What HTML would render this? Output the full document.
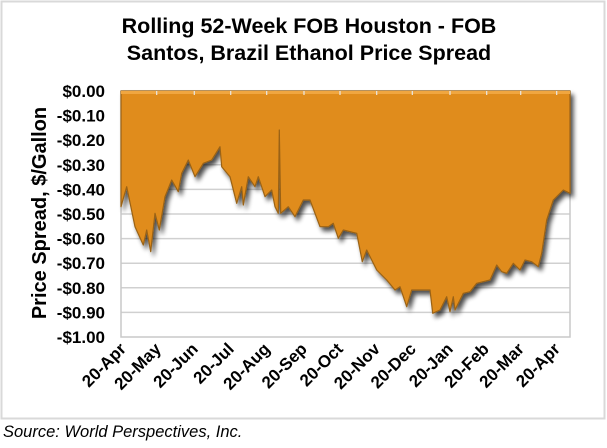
<!DOCTYPE html>
<html><head><style>
body{margin:0;background:#fff;width:607px;height:443px;overflow:hidden;font-family:"Liberation Sans",Arial,sans-serif;}
</style></head><body>
<svg width="607" height="443" xmlns="http://www.w3.org/2000/svg" font-family="Liberation Sans, Arial, sans-serif">
<defs>
<filter id="sh" x="-5%" y="-5%" width="115%" height="115%">
<feGaussianBlur in="SourceAlpha" stdDeviation="2.5"/>
<feOffset dx="3" dy="4" result="o"/>
<feComponentTransfer><feFuncA type="linear" slope="0.7"/></feComponentTransfer>
<feMerge><feMergeNode/><feMergeNode in="SourceGraphic"/></feMerge>
</filter>
</defs>
<rect x="1.5" y="1.5" width="603" height="417" fill="#fff" stroke="#d9d9d9" stroke-width="2"/>
<text x="309" y="33" text-anchor="middle" font-size="21.5" font-weight="bold">Rolling 52-Week FOB Houston - FOB</text>
<text x="309" y="60" text-anchor="middle" font-size="21.5" font-weight="bold">Santos, Brazil Ethanol Price Spread</text>
<g stroke="#d0d0d0" stroke-width="1.5">
<line x1="121" x2="570" y1="115.6" y2="115.6"/><line x1="121" x2="570" y1="140.2" y2="140.2"/>
<line x1="121" x2="570" y1="164.8" y2="164.8"/><line x1="121" x2="570" y1="189.4" y2="189.4"/>
<line x1="121" x2="570" y1="214" y2="214"/><line x1="121" x2="570" y1="238.6" y2="238.6"/>
<line x1="121" x2="570" y1="263.2" y2="263.2"/><line x1="121" x2="570" y1="287.8" y2="287.8"/>
<line x1="121" x2="570" y1="312.4" y2="312.4"/>
</g>
<rect x="121" y="91" width="449" height="246" fill="none" stroke="#c8c8c8" stroke-width="1.5"/>
<path filter="url(#sh)" fill="#E08C1E" stroke="#9a6212" stroke-width="1.2" stroke-linejoin="round" d="M121,91 L570,91 L570,193.3 L563.3,190 L553.3,200 L546.7,220 L541.7,253.3 L538.3,266.7 L531.7,261.7 L525,260 L520,270 L513.3,263.3 L506.7,273.3 L501.7,271.7 L496.7,265 L490,280 L476.7,283.3 L470,291.7 L463.3,293.3 L455,310 L453.3,296.7 L450,311.7 L446.7,296.7 L440,310 L432.7,313.3 L430,290 L411.7,290 L406.7,306.7 L400,286.7 L395,290 L386.7,280 L376.7,270 L366.7,250 L362.3,261.7 L356.7,233.3 L343.3,230 L338.3,238.3 L333.3,223.3 L328.3,226.7 L320,226.7 L310,200 L303.3,200 L295,216.7 L288.3,206.7 L280.7,213.3 L279.3,130 L278.3,213.3 L275,206.7 L271.7,190 L265,196.7 L258.3,176.7 L255,186.7 L248.3,176.7 L243.3,205 L241.7,186.7 L236.7,203.3 L230,176.7 L221.7,166.7 L220,146.7 L211.7,160 L203.3,163.3 L195,176.7 L188.3,160 L181.7,173.3 L178.3,191.7 L171.7,180 L165,196.7 L159.3,230 L155,213.3 L150.7,251.7 L146.7,230 L143.3,245 L135,226.7 L126.7,186.7 L121,206.7 Z"/>
<rect x="121" y="91" width="449" height="3" fill="#f0a640"/>
<g stroke="#e8e8e8" stroke-width="1.2">
<line x1="156.7" x2="156.7" y1="91" y2="95"/><line x1="194.3" x2="194.3" y1="91" y2="95"/><line x1="230.7" x2="230.7" y1="91" y2="95"/><line x1="266.7" x2="266.7" y1="91" y2="95"/><line x1="304" x2="304" y1="91" y2="95"/><line x1="340" x2="340" y1="91" y2="95"/><line x1="376.7" x2="376.7" y1="91" y2="95"/><line x1="412.3" x2="412.3" y1="91" y2="95"/><line x1="450" x2="450" y1="91" y2="95"/><line x1="486.7" x2="486.7" y1="91" y2="95"/><line x1="520.7" x2="520.7" y1="91" y2="95"/><line x1="556.7" x2="556.7" y1="91" y2="95"/>
</g>
<g font-size="17" font-weight="bold" text-anchor="end">
<text x="105" y="97">$0.00</text><text x="105" y="121.6">-$0.10</text><text x="105" y="146.2">-$0.20</text>
<text x="105" y="170.8">-$0.30</text><text x="105" y="195.4">-$0.40</text><text x="105" y="220">-$0.50</text>
<text x="105" y="244.6">-$0.60</text><text x="105" y="269.2">-$0.70</text><text x="105" y="293.8">-$0.80</text>
<text x="105" y="318.4">-$0.90</text><text x="105" y="343">-$1.00</text>
</g>
<text transform="translate(46,213) rotate(-90)" text-anchor="middle" font-size="20" font-weight="bold">Price Spread, $/Gallon</text>
<g font-size="17" font-weight="bold" text-anchor="end">
<text transform="translate(127,350) rotate(-45)">20-Apr</text>
<text transform="translate(162,350) rotate(-45)">20-May</text>
<text transform="translate(199,350) rotate(-45)">20-Jun</text>
<text transform="translate(235,350) rotate(-45)">20-Jul</text>
<text transform="translate(271,350) rotate(-45)">20-Aug</text>
<text transform="translate(308,350) rotate(-45)">20-Sep</text>
<text transform="translate(344,350) rotate(-45)">20-Oct</text>
<text transform="translate(381,350) rotate(-45)">20-Nov</text>
<text transform="translate(417,350) rotate(-45)">20-Dec</text>
<text transform="translate(454,350) rotate(-45)">20-Jan</text>
<text transform="translate(490,350) rotate(-45)">20-Feb</text>
<text transform="translate(525,350) rotate(-45)">20-Mar</text>
<text transform="translate(561,350) rotate(-45)">20-Apr</text>
</g>
<text x="3" y="437" font-size="16.5" font-style="italic">Source: World Perspectives, Inc.</text>
</svg>
</body></html>
